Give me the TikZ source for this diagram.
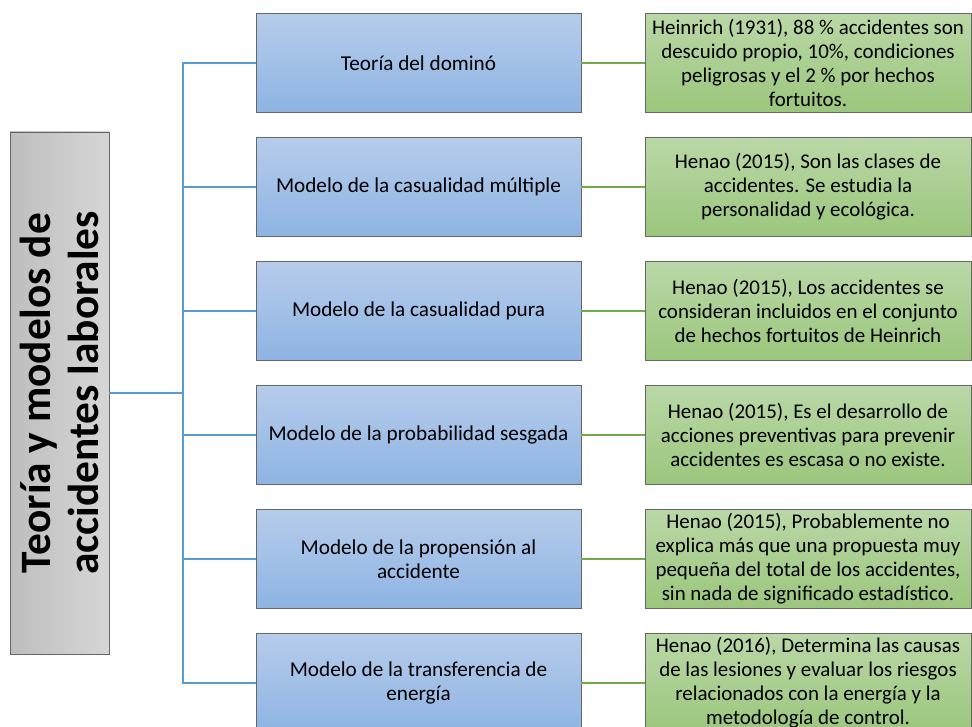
\documentclass[tikz,border=0pt]{standalone}
\usepackage{fontspec}
\setmainfont{Carlito}

\definecolor{azulA}{RGB}{182,204,235}
\definecolor{azulB}{RGB}{142,180,227}
\definecolor{verdeA}{RGB}{186,216,167}
\definecolor{verdeB}{RGB}{155,198,124}
\definecolor{grisA}{RGB}{214,214,214}
\definecolor{grisB}{RGB}{190,190,190}
\definecolor{lineaazul}{RGB}{91,155,213}
\definecolor{lineaverde}{RGB}{112,173,71}

\tikzset{
  modelo/.style={draw=gray!80!black, line width=0.6pt, top color=azulA, bottom color=azulB,
    minimum width=243.75pt, minimum height=74.25pt, inner sep=0pt, align=center,
    font=\fontsize{15.9}{18}\selectfont},
  desc/.style={draw=gray!80!black, line width=0.6pt, top color=verdeA, bottom color=verdeB,
    minimum width=244.5pt, minimum height=74.25pt, inner sep=0pt, align=center,
    font=\fontsize{15.7}{18}\selectfont},
  titulo/.style={draw=gray!80!black, line width=0.6pt, left color=grisB, right color=grisA,
    rotate=90, minimum width=391.5pt, minimum height=74.25pt, inner sep=0pt, align=center,
    font=\fontsize{32.5}{36}\selectfont\bfseries},
  rama/.style={lineaazul, line width=2pt},
  enlace/.style={lineaverde, line width=2pt}
}

\begin{document}
\begin{tikzpicture}[x=0.75pt,y=-0.75pt]
  \useasboundingbox (0,0) rectangle (972,727);

  \node[titulo] (titulo) at (59.5,393) {Teoría y modelos de\\accidentes laborales};
  \coordinate (tronco) at (183,393);

  % modelos
  \node[modelo] (m1) at (418.5,63)  {Teoría del dominó};
  \node[modelo] (m2) at (418.5,187) {Modelo de la casualidad múltiple};
  \node[modelo] (m3) at (418.5,311) {Modelo de la casualidad pura};
  \node[modelo] (m4) at (418.5,435) {Modelo de la probabilidad sesgada};
  \node[modelo] (m5) at (418.5,559) {Modelo de la propensión al\\accidente};
  \node[modelo] (m6) at (418.5,683) {Modelo de la transferencia de\\energía};

  % descripciones
  \node[desc] (d1) at (808,63)  {Heinrich (1931), 88 \% accidentes son\\descuido propio, 10\%, condiciones\\peligrosas y el 2 \% por hechos\\fortuitos.};
  \node[desc] (d2) at (808,187) {Henao (2015), Son las clases de\\accidentes. Se estudia la\\personalidad y ecológica.};
  \node[desc] (d3) at (808,311) {Henao (2015), Los accidentes se\\consideran incluidos en el conjunto\\de hechos fortuitos de Heinrich};
  \node[desc] (d4) at (808,435) {Henao (2015), Es el desarrollo de\\acciones preventivas para prevenir\\accidentes es escasa o no existe.};
  \node[desc] (d5) at (808,559) {Henao (2015), Probablemente no\\explica más que una propuesta muy\\pequeña del total de los accidentes,\\sin nada de significado estadístico.};
  \node[desc] (d6) at (808,683) {Henao (2016), Determina las causas\\de las lesiones y evaluar los riesgos\\relacionados con la energía y la\\metodología de control.};

  \draw[rama] (titulo.south) -- (tronco);
  \draw[rama] (m1.west) -| (tronco) |- (m6.west);
  \draw[rama] (m2.west) -- (m2.west -| tronco);
  \draw[rama] (m3.west) -- (m3.west -| tronco);
  \draw[rama] (m4.west) -- (m4.west -| tronco);
  \draw[rama] (m5.west) -- (m5.west -| tronco);

  \draw[enlace] (m1.east) -- (d1.west);
  \draw[enlace] (m2.east) -- (d2.west);
  \draw[enlace] (m3.east) -- (d3.west);
  \draw[enlace] (m4.east) -- (d4.west);
  \draw[enlace] (m5.east) -- (d5.west);
  \draw[enlace] (m6.east) -- (d6.west);
\end{tikzpicture}
\end{document}
